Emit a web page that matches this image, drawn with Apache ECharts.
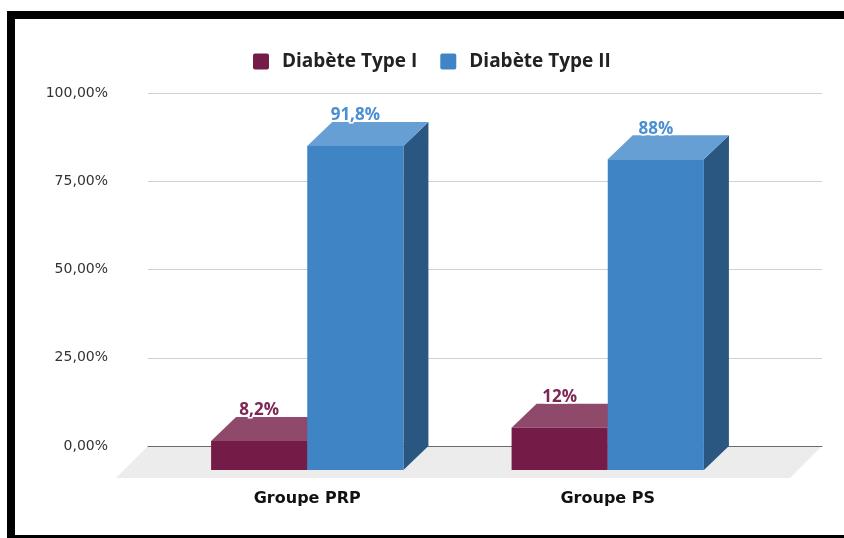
<!DOCTYPE html>
<html>
<head>
<meta charset="utf-8">
<script src="https://cdn.jsdelivr.net/npm/echarts@6/dist/echarts.min.js"></script>
<style>
  html, body { margin: 0; padding: 0; background: #fff; }
  #chart { width: 844px; height: 538px; }
</style>
</head>
<body>
<div id="chart"></div>
<script>
  // données
  const categories = ['Groupe PRP', 'Groupe PS'];
  const seriesNames = ['Diabète Type I', 'Diabète Type II'];
  const type1 = [8.2, 12];
  const type2 = [91.8, 88];
  const yTicks = [0, 25, 50, 75, 100];

  // couleurs des faces : avant, dessus, côté, étiquette
  const faces = [
    { front: '#741b47', top: '#8f4a6b', side: '#561435', label: '#7d2755' },
    { front: '#3f85c6', top: '#659fd4', side: '#295781', label: '#4a8fd2' }
  ];

  // profondeur de l'effet 3D
  const DX = 25, DY = 24, FLOOR = 32;
  const backLeft = 148, backRight = 822, backTop = 93, backBase = 446;

  function fmtPct(v) {
    return String(v).replace('.', ',') + '%';
  }

  function renderBox(params, api) {
    const cat = api.value(0);
    const val = api.value(1);
    const top = api.coord([cat, val]);
    const base = api.coord([cat, 0]);
    const w = api.size([1, 0])[0] * 0.32;
    const c = faces[params.seriesIndex];
    const x0 = top[0] + (params.seriesIndex === 0 ? -w : 0);
    const x1 = x0 + w;
    const yT = top[1], yB = base[1];
    return {
      type: 'group',
      children: [
        { type: 'polygon', shape: { points: [[x1, yT], [x1 + DX, yT - DY], [x1 + DX, yB - DY], [x1, yB]] }, style: { fill: c.side } },
        { type: 'polygon', shape: { points: [[x0, yT], [x0 + DX, yT - DY], [x1 + DX, yT - DY], [x1, yT]] }, style: { fill: c.top } },
        { type: 'rect', shape: { x: x0, y: yT, width: w, height: yB - yT }, style: { fill: c.front } },
        {
          type: 'text',
          x: (x0 + x1) / 2, y: yT - DY + 2,
          style: {
            text: fmtPct(val), fill: c.label, stroke: '#fff', lineWidth: 3,
            font: 'bold 17px "Open Sans"', align: 'center', verticalAlign: 'bottom'
          }
        }
      ]
    };
  }

  let chart = echarts.init(document.getElementById('chart'));
  chart.setOption({
    backgroundColor: '#fff',
    animation: false,
    legend: {
      left: 248,
      top: 47,
      icon: 'path://M2,0 L14,0 Q16,0 16,2 L16,14 Q16,16 14,16 L2,16 Q0,16 0,14 L0,2 Q0,0 2,0 Z',
      itemWidth: 16,
      itemHeight: 16,
      itemGap: 23,
      textStyle: { fontFamily: 'Open Sans', fontWeight: 'bold', fontSize: 19, color: '#222', padding: [0, 0, 0, 8] },
      data: seriesNames
    },
    graphic: [
      // sol gris
      {
        type: 'polygon', z: -1,
        shape: { points: [[backLeft, backBase], [backRight, backBase], [backRight - FLOOR, backBase + FLOOR], [backLeft - FLOOR, backBase + FLOOR]] },
        style: { fill: '#ececec' }
      },
      // cadre noir
      { type: 'rect', shape: { x: 7, y: 11, width: 837, height: 8 }, style: { fill: '#000' } },
      { type: 'rect', shape: { x: 7, y: 11, width: 8, height: 527 }, style: { fill: '#000' } },
      { type: 'rect', shape: { x: 7, y: 535, width: 837, height: 3 }, style: { fill: '#000' } }
    ],
    grid: [
      // plan arrière (quadrillage)
      { left: backLeft, right: 844 - backRight, top: backTop, bottom: 538 - backBase },
      // plan avant (barres)
      { left: 157, right: 86, top: backTop + DY, bottom: 538 - backBase - DY }
    ],
    xAxis: [
      {
        type: 'category', gridIndex: 0, data: categories,
        axisLine: { lineStyle: { color: '#6b6b6b', width: 1 } },
        axisTick: { show: false }, axisLabel: { show: false }
      },
      {
        type: 'category', gridIndex: 1, data: categories,
        axisLine: { show: false }, axisTick: { show: false },
        axisLabel: { margin: 21, fontFamily: 'DejaVu Sans', fontWeight: 'bold', fontSize: 16, color: '#111' }
      }
    ],
    yAxis: [
      {
        type: 'value', gridIndex: 0, min: yTicks[0], max: yTicks[yTicks.length - 1], interval: yTicks[1] - yTicks[0],
        axisLine: { show: false }, axisTick: { show: false },
        splitLine: { lineStyle: { color: '#d0d0d0' } },
        axisLabel: {
          margin: 40, fontFamily: 'DejaVu Sans', fontSize: 14, color: '#333',
          formatter: v => v.toFixed(2).replace('.', ',') + '%'
        }
      },
      { type: 'value', gridIndex: 1, min: yTicks[0], max: yTicks[yTicks.length - 1], show: false }
    ],
    series: [
      {
        name: seriesNames[0], type: 'custom', xAxisIndex: 1, yAxisIndex: 1, clip: false, z: 5,
        itemStyle: { color: faces[0].front },
        renderItem: renderBox,
        encode: { x: 0, y: 1 },
        data: type1.map((v, i) => [i, v])
      },
      {
        name: seriesNames[1], type: 'custom', xAxisIndex: 1, yAxisIndex: 1, clip: false, z: 5,
        itemStyle: { color: faces[1].front },
        renderItem: renderBox,
        encode: { x: 0, y: 1 },
        data: type2.map((v, i) => [i, v])
      }
    ]
  });
</script>
</body>
</html>
